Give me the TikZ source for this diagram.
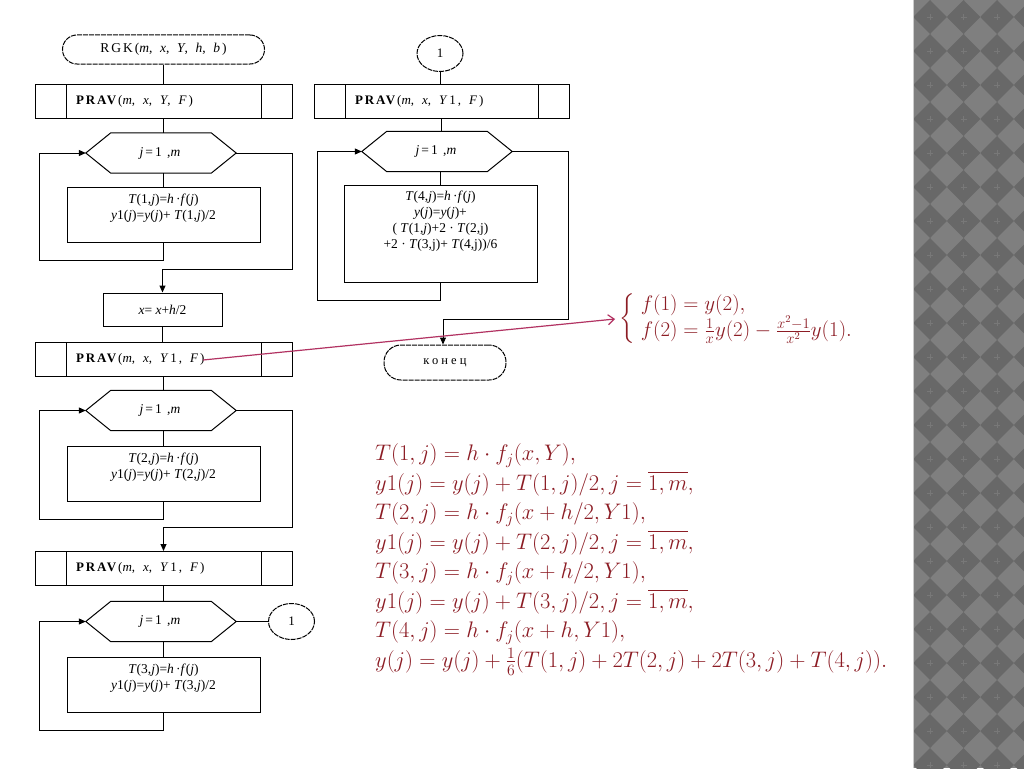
\RequirePackage{fix-cm}
\documentclass[tikz,border=0pt]{standalone}
\usepackage{amsmath}
\usepackage{fontspec}
\newfontfamily\fcfont{Liberation Serif}
\newfontfamily\fcwide[LetterSpace=15]{Liberation Serif}
\newfontfamily\fcvwide[LetterSpace=25]{Liberation Serif}
\usetikzlibrary{arrows.meta,calc,shapes.geometric}
\definecolor{formred}{RGB}{140,28,36}
\definecolor{linkred}{RGB}{178,50,98}
\definecolor{patdark}{RGB}{104,104,104}
\definecolor{patlight}{RGB}{127,127,127}
\definecolor{patcross}{RGB}{120,120,120}
\newcommand{\hexshape}[1]{\draw[line width=1pt] (#1.west) -- ([xshift=25pt]#1.north west) -- ([xshift=-25pt]#1.north east) -- (#1.east) -- ([xshift=-25pt]#1.south east) -- ([xshift=25pt]#1.south west) -- cycle;}
\begin{document}
\begin{tikzpicture}[x=1pt,y=-1pt,
  every node/.style={font=\fcfont\fontsize{13.5}{16}\selectfont, inner sep=0pt},
  box/.style={draw, line width=1pt, rectangle},
  term/.style={draw, line width=1pt, dash pattern=on 5pt off 1pt, rounded corners=#1},
  conn/.style={line width=1pt},
  arr/.style={line width=1pt, -{Triangle[length=7pt,width=6pt]}},
  pproc/.style={box, minimum width=#1, minimum height=34pt, text width=#1-82pt, align=left,
    font=\fcwide\fontsize{13}{15}\selectfont,
    path picture={
      \draw[line width=1pt] ([xshift=31pt]path picture bounding box.north west) -- ([xshift=31pt]path picture bounding box.south west);
      \draw[line width=1pt] ([xshift=-31pt]path picture bounding box.north east) -- ([xshift=-31pt]path picture bounding box.south east);}},
  hexa/.style={minimum width=150pt, minimum height=40pt, font=\fcwide\fontsize{13.5}{15}\selectfont},
  proc/.style={box, minimum width=193pt, minimum height=55pt, align=center},
  conncirc/.style={draw, line width=1pt, dash pattern=on 5pt off 1pt, ellipse, minimum width=46pt, minimum height=36pt, font=\fcfont\fontsize{13}{15}\selectfont},
]
\useasboundingbox (0,0) rectangle (1024,768);
\fill[white] (0,0) rectangle (1024,768);
% patterned border
\begin{scope}
\clip (913,0) rectangle (1024,768);
\fill[patlight] (913,0) rectangle (1024,768);
\foreach \i in {-1,...,3} {
  \foreach \j in {0,...,22} {
    \pgfmathsetmacro\cx{930+33.5*\i}
    \pgfmathsetmacro\cy{17+34*\j}
    \fill[patdark] (\cx-16.75,\cy) -- (\cx,\cy-17) -- (\cx+16.75,\cy) -- (\cx,\cy+17) -- cycle;
    \draw[patcross, line width=0.5pt] (\cx-3,\cy) -- (\cx+3,\cy) (\cx,\cy-3) -- (\cx,\cy+3);
  }
}
\end{scope}
\draw[gray!40, line width=1.2pt] (913.6,0) -- (913.6,768);

% ---- left column
\node[term=14.5pt, minimum width=202pt, minimum height=29pt, font=\fcwide\fontsize{13.5}{15}\selectfont] (start) at (163.5,49.5) {RGK(\textit{m},\, \textit{x},\, \textit{Y},\, \textit{h},\, \textit{b})};
\node[pproc=257pt] (p1) at (163.5,101) {\textbf{PRAV}(\textit{m},\; \textit{x},\; \textit{Y},\; \textit{F})};
\node[hexa] (h1) at (161,153) {\textit{j}=1 ,\textit{m}};
\hexshape{h1}
\node[proc] (b1) at (163.5,214.5) {\textit{T}(1,\textit{j})=\textit{h}\,·\textit{f}(\textit{j})\\\textit{y}1(\textit{j})=\textit{y}(\textit{j})+ \textit{T}(1,\textit{j})/2\\\mbox{}};
\node[box, minimum width=119pt, minimum height=33pt] (xb) at (162.5,309.5) {\textit{x}= \textit{x}+\textit{h}/2};
\node[pproc=257pt] (p2) at (163.5,359) {\textbf{PRAV}(\textit{m},\; \textit{x},\; \textit{Y}1,\; \textit{F})};
\node[hexa] (h2) at (161,410.5) {\textit{j}=1 ,\textit{m}};
\hexshape{h2}
\node[proc] (b2) at (163.5,473.5) {\textit{T}(2,\textit{j})=\textit{h}\,·\textit{f}(\textit{j})\\\textit{y}1(\textit{j})=\textit{y}(\textit{j})+ \textit{T}(2,\textit{j})/2\\\mbox{}};
\node[pproc=257pt] (p3) at (163.5,568.5) {\textbf{PRAV}(\textit{m},\; \textit{x},\; \textit{Y}1,\; \textit{F})};
\node[hexa] (h3) at (161,621.5) {\textit{j}=1 ,\textit{m}};
\hexshape{h3}
\node[conncirc] (c3) at (291.5,621.5) {1};
\node[proc] (b3) at (163.5,684.5) {\textit{T}(3,\textit{j})=\textit{h}\,·\textit{f}(\textit{j})\\\textit{y}1(\textit{j})=\textit{y}(\textit{j})+ \textit{T}(3,\textit{j})/2\\\mbox{}};

% ---- right column
\node[conncirc] (c1) at (440,53.5) {1};
\node[pproc=255pt] (p4) at (441.5,101) {\textbf{PRAV}(\textit{m},\; \textit{x},\; \textit{Y}1,\; \textit{F})};
\node[hexa] (h4) at (437,151.5) {\textit{j}=1 ,\textit{m}};
\hexshape{h4}
\node[box, minimum width=193pt, minimum height=97pt] (b4) at (440.5,233.5) {};
\node[anchor=north, align=center] (b4t) at ([yshift=-6pt]b4.north) {\textit{T}(4,\textit{j})=\textit{h}\,·\textit{f}(\textit{j})\\\textit{y}(\textit{j})=\textit{y}(\textit{j})+\\( \textit{T}(1,\textit{j})+2 · \textit{T}(2,j)\\+2 · \textit{T}(3,j)+ \textit{T}(4,j))/6};
\node[term=17pt, minimum width=122pt, minimum height=35pt, font=\fcvwide\fontsize{12.5}{14}\selectfont] (end) at (445,362.5) {конец};

% ---- connectors, left column
\draw[conn] (start.south) -- (p1.north);
\draw[conn] (p1.south) -- (p1.south |- h1.north);
\draw[conn] (b1.north |- h1.south) -- (b1.north);
\draw[arr] (b1.south) -- ++(0,18) -| ($(h1.west)+(-46,0)$) -- (h1.west);
\draw[arr] (h1.east) -- ++(56,0) |- ($(xb.north)+(0,-23)$) -- (xb.north);
\draw[conn] (xb.south) -- (xb.south |- p2.north);
\draw[conn] (p2.south) -- (p2.south |- h2.north);
\draw[conn] (b2.north |- h2.south) -- (b2.north);
\draw[arr] (b2.south) -- ++(0,18) -| ($(h2.west)+(-46,0)$) -- (h2.west);
\draw[arr] (h2.east) -- ++(56,0) |- ($(p3.north)+(0,-24)$) -- (p3.north);
\draw[conn] (p3.south) -- (p3.south |- h3.north);
\draw[conn] (b3.north |- h3.south) -- (b3.north);
\draw[arr] (b3.south) -- ++(0,18) -| ($(h3.west)+(-46,0)$) -- (h3.west);
\draw[conn] (h3.east) -- (c3.west);

% ---- connectors, right column
\draw[conn] (c1.south) -- (c1.south |- p4.north);
\draw[conn] (p4.south) -- (p4.south |- h4.north);
\draw[conn] (b4.north |- h4.south) -- (b4.north);
\draw[arr] (b4.south) -- ++(0,18) -| ($(h4.west)+(-44,0)$) -- (h4.west);
\draw[arr] (h4.east) -- ++(56,0) |- ($(end.north)+(-2,-25)$) -- ($(end.north)+(-2,0)$);

% ---- formulas
\node[anchor=west, text=formred, font=\fontsize{21}{17}\selectfont] (sys) at (619,319)
  {$\begin{cases} \hspace{6pt}f(1) = y(2),\\ \hspace{6pt}f(2) = \frac{1}{x}y(2) - \frac{x^2-1}{x^2}y(1).\end{cases}$};
\coordinate (lk) at (203,360);
\draw[linkred, line width=1.2pt, -{Straight Barb[length=6pt,width=10pt]}] (lk) -- ([xshift=-4pt]sys.west);

\node[anchor=north west, align=left, text=formred, font=\fontsize{22.5}{29.5}\selectfont] (eqs) at (375,443.7) {%
$T(1,j) = h\cdot f_j(x,Y),$\\
$y1(j) = y(j) + T(1,j)/2, j = \overline{1,m},$\\
$T(2,j) = h\cdot f_j(x+h/2,Y1),$\\
$y1(j) = y(j) + T(2,j)/2, j = \overline{1,m},$\\
$T(3,j) = h\cdot f_j(x+h/2,Y1),$\\
$y1(j) = y(j) + T(3,j)/2, j = \overline{1,m},$\\
$T(4,j) = h\cdot f_j(x+h,Y1),$\\
$y(j) = y(j) + \frac{1}{6}(T(1,j)+2T(2,j)+2T(3,j)+T(4,j)).$};
\end{tikzpicture}
\end{document}
